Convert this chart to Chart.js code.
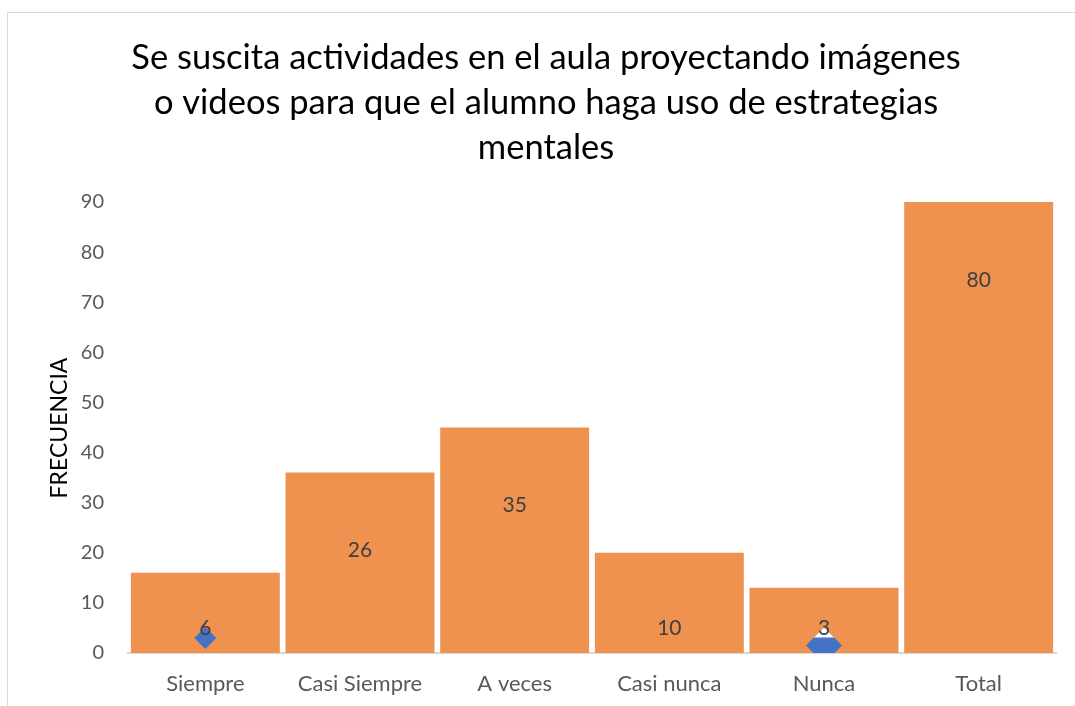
<!DOCTYPE html>
<html>
<head>
<meta charset="utf-8">
<script src="https://cdn.jsdelivr.net/npm/chart.js@4/dist/chart.umd.min.js"></script>
<style>
  html, body { margin: 0; padding: 0; background: #fff; }
  #wrap { position: relative; width: 1075px; height: 706px; }
  #frame { position: absolute; left: 7px; top: 12px; right: -2px; bottom: -2px; border-left: 1px solid #d9d9d9; border-top: 1px solid #d9d9d9; }
  canvas { position: absolute; left: 0; top: 0; }
</style>
</head>
<body>
<div id="wrap">
  <div id="frame"></div>
  <canvas id="chart" width="1075" height="706"></canvas>
</div>
<script>
const titleLines = [
    'Se suscita actividades en el aula proyectando imágenes',
    'o videos para que el alumno haga uso de estrategias',
    'mentales'
];
const categories = ['Siempre', 'Casi Siempre', 'A veces', 'Casi nunca', 'Nunca', 'Total'];
const barValues = [16, 36, 45, 20, 13, 90];
const barLabels = [6, 26, 35, 10, 3, 80];
const markerValues = [3, null, null, null, 1.5, null];
const markerSizes = [11, 0, 0, 0, 18, 0];
const yTicks = [0, 10, 20, 30, 40, 50, 60, 70, 80, 90];

const FONT = 'Lato, "Open Sans", sans-serif';

const extras = {
    id: 'extras',
    afterDatasetsDraw(chart) {
        const c = chart.ctx;
        const y = chart.scales.y;
        const bars = chart.getDatasetMeta(0).data;
        const pts = chart.getDatasetMeta(1).data;

        // white top of the big marker under the "3" label
        pts.forEach((p, i) => {
            if (markerValues[i] === null || markerSizes[i] < 15) return;
            const r = markerSizes[i];
            c.save();
            c.beginPath();
            c.moveTo(p.x, p.y - r);
            c.lineTo(p.x + r, p.y);
            c.lineTo(p.x, p.y + r);
            c.lineTo(p.x - r, p.y);
            c.closePath();
            c.clip();
            c.fillStyle = '#ffffff';
            c.fillRect(p.x - r, p.y - r, 2 * r, r - 8);
            c.restore();
        });

        // bar labels
        c.save();
        c.font = '21px ' + FONT;
        c.fillStyle = '#404040';
        c.textAlign = 'center';
        c.textBaseline = 'middle';
        bars.forEach((b, i) => {
            const ly = Math.min(y.getPixelForValue(barValues[i]) + 78, y.getPixelForValue(0) - 25);
            c.fillText(String(barLabels[i]), b.x, ly);
        });
        c.restore();
    },
    afterDraw(chart) {
        const c = chart.ctx;
        c.save();
        c.fillStyle = '#000000';
        c.font = '34.5px ' + FONT;
        c.textAlign = 'center';
        c.textBaseline = 'middle';
        titleLines.forEach((t, i) => c.fillText(t, 546, 58 + i * 45));

        c.translate(60, 428);
        c.rotate(-Math.PI / 2);
        c.font = '23px ' + FONT;
        c.fillText('FRECUENCIA', 0, 0);
        c.restore();
    }
};

new Chart(document.getElementById('chart').getContext('2d'), {
    type: 'bar',
    data: {
        labels: categories,
        datasets: [{
            label: 'Frecuencia',
            data: barValues,
            backgroundColor: '#ef914f',
            borderWidth: 0,
            categoryPercentage: 1,
            barPercentage: 0.963,
            order: 2
        }, {
            type: 'line',
            label: 'Marcador',
            data: markerValues,
            showLine: false,
            pointStyle: 'rectRot',
            pointRadius: markerSizes,
            pointBackgroundColor: '#4472c4',
            pointBorderWidth: 0,
            clip: 0,
            order: 1
        }]
    },
    options: {
        responsive: false,
        animation: false,
        layout: { padding: { top: 202, right: 19, bottom: 0, left: 0 } },
        plugins: {
            legend: { display: false },
            tooltip: { enabled: false }
        },
        scales: {
            x: {
                grid: { display: false },
                border: { display: true, color: '#d9d9d9', width: 2 },
                ticks: { color: '#595959', font: { family: FONT, size: 22 }, padding: 10 },
                afterFit(s) { s.height = 53; }
            },
            y: {
                min: 0,
                max: 90,
                afterBuildTicks(s) { s.ticks = yTicks.map(v => ({ value: v })); },
                grid: { display: false },
                border: { display: false },
                ticks: { color: '#595959', font: { family: FONT, size: 20 }, padding: 16 },
                afterFit(s) { s.width = 128; }
            }
        }
    },
    plugins: [extras]
});
</script>
</body>
</html>
